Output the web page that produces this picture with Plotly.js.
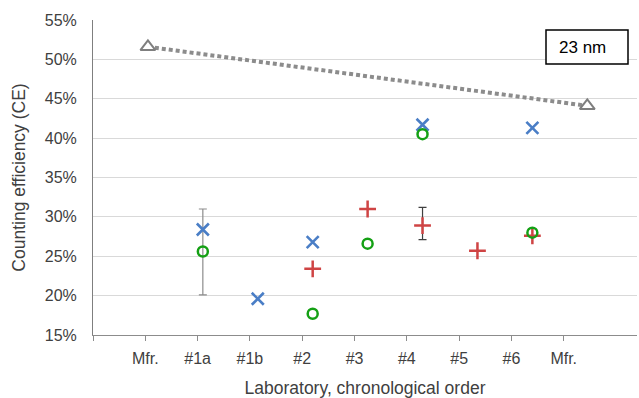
<!DOCTYPE html>
<html>
<head>
<meta charset="utf-8">
<script src="https://cdn.plot.ly/plotly-3.0.1.min.js"></script>
<style>html,body{margin:0;padding:0;background:#fff;}#chart{width:639px;height:398px;}</style>
</head>
<body>
<div id="chart"></div>
<script>
// Category labels along the x axis and their tick positions
const tickLabels = ['', 'Mfr.', '#1a', '#1b', '#2', '#3', '#4', '#5', '#6', 'Mfr.'];
const tickPos = [0, 0.952, 1.905, 2.857, 3.81, 4.762, 5.714, 6.667, 7.619, 8.571];

// Manufacturer values (first and last Mfr.)
const mfrX = [1, 9];
const mfrCE = [0.516, 0.441];

// Blue X series
const blueX = [2, 3, 4, 6, 8];
const blueCE = [0.284, 0.196, 0.268, 0.417, 0.413];

// Red + series
const redX = [4, 5, 6, 7, 8];
const redCE = [0.234, 0.310, 0.289, 0.257, 0.276];

// Green O series
const greenX = [2, 4, 5, 6, 8];
const greenCE = [0.256, 0.177, 0.266, 0.405, 0.280];

// Error bars
const errX = [2, 6];
const errCE = [0.256, 0.289];
const errPlus = [0.054, 0.023];
const errMinus = [0.055, 0.018];
const errColors = ['#8c8c8c', '#404040'];

const traces = [];

traces.push({
  x: mfrX, y: mfrCE, mode: 'lines+markers', type: 'scatter',
  line: {color: '#8c8c8c', width: 4, dash: '4px,3px'},
  marker: {symbol: 'triangle-up', size: 13, color: '#ffffff', line: {color: '#7f7f7f', width: 2}},
  showlegend: false, hoverinfo: 'skip'
});

for (let i = 0; i < errX.length; i++) {
  traces.push({
    x: [errX[i]], y: [errCE[i]], mode: 'markers', type: 'scatter',
    marker: {size: 1, opacity: 0},
    error_y: {type: 'data', symmetric: false, array: [errPlus[i]], arrayminus: [errMinus[i]],
      color: errColors[i], thickness: 1.2, width: 4},
    showlegend: false, hoverinfo: 'skip'
  });
}

traces.push({
  x: blueX, y: blueCE, mode: 'markers', type: 'scatter',
  marker: {symbol: 'x-thin-open', size: 12, color: '#4a7ec6', line: {color: '#4a7ec6', width: 2.6}},
  showlegend: false
});
traces.push({
  x: redX, y: redCE, mode: 'markers', type: 'scatter',
  marker: {symbol: 'cross-thin-open', size: 12, color: '#cf4444', line: {color: '#cf4444', width: 2.5}},
  showlegend: false
});
traces.push({
  x: greenX, y: greenCE, mode: 'markers', type: 'scatter',
  marker: {symbol: 'circle-open', size: 10, color: '#14a014', line: {color: '#14a014', width: 2.5}},
  showlegend: false
});

const fam = 'Liberation Sans, Arial, sans-serif';

const layout = {
  width: 639, height: 398,
  margin: {l: 93, r: 2, t: 20, b: 63},
  paper_bgcolor: '#ffffff', plot_bgcolor: '#ffffff',
  font: {family: fam, size: 16, color: '#404040'},
  showlegend: false,
  xaxis: {
    range: [0, 9.905],
    tickmode: 'array', tickvals: tickPos, ticktext: tickLabels,
    ticks: 'outside', ticklen: 5, tickcolor: '#8c8c8c', tickwidth: 1,
    showgrid: false, zeroline: false,
    showline: true, linecolor: '#8c8c8c', linewidth: 1,
    tickfont: {family: fam, size: 16, color: '#404040'},
    ticklabelstandoff: 4,
    title: {text: 'Laboratory, chronological order', font: {family: fam, size: 17.5, color: '#404040'}, standoff: 15}
  },
  yaxis: {
    range: [0.15, 0.55],
    tickvals: [0.15, 0.20, 0.25, 0.30, 0.35, 0.40, 0.45, 0.50, 0.55],
    tickformat: '.0%',
    ticks: '', showgrid: true, gridcolor: '#d9d9d9', gridwidth: 1,
    zeroline: false, showline: true, linecolor: '#7f7f7f', linewidth: 1,
    tickfont: {family: fam, size: 16, color: '#404040'},
    ticklabelstandoff: 12,
    title: {text: 'Counting efficiency (CE)', font: {family: fam, size: 17.5, color: '#404040'}, standoff: 14}
  },
  shapes: [{
    type: 'rect', xref: 'paper', yref: 'paper',
    x0: (546 - 93) / 544, x1: (628 - 93) / 544,
    y0: 1 - (64 - 20) / 315, y1: 1 - (30 - 20) / 315,
    line: {color: '#000000', width: 1.5}, fillcolor: '#ffffff'
  }],
  annotations: [{
    text: '23 nm', xref: 'paper', yref: 'paper',
    x: (582 - 93) / 544, y: 1 - (47 - 20) / 315,
    xanchor: 'center', yanchor: 'middle', showarrow: false,
    font: {family: fam, size: 17, color: '#000000'}
  }]
};

Plotly.newPlot('chart', traces, layout, {displayModeBar: false, staticPlot: true});
</script>
</body>
</html>
